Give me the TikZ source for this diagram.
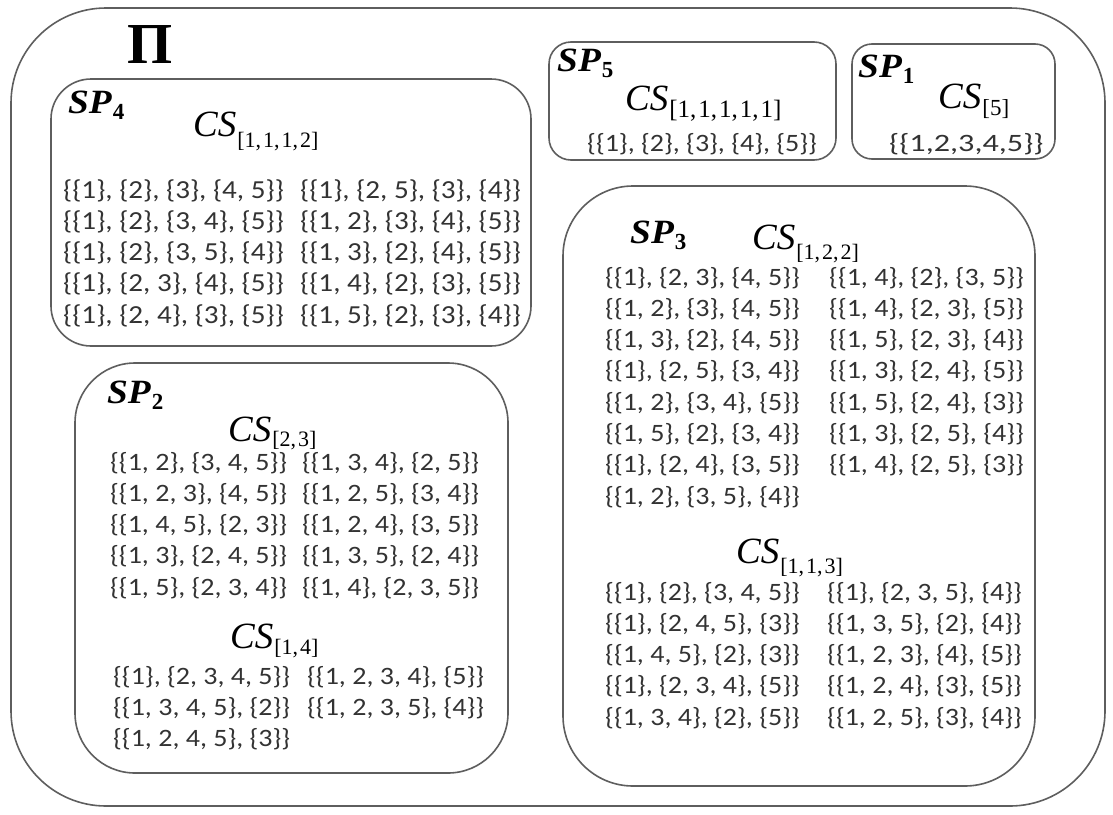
\documentclass[tikz,border=0pt]{standalone}
\usepackage{graphicx}
\usepackage{fontspec}
\setmainfont{Carlito}
\newfontfamily\setfont[FakeStretch=1.12]{Carlito}
\newfontfamily\serifface{Liberation Serif}
\newfontfamily\spface[FakeStretch=1.1]{Liberation Serif}
\definecolor{ink}{HTML}{333333}
\definecolor{edge}{HTML}{5E5E5E}

% CS label: #1 subscript, #2 drop of the subscript, #3 subscript size
\newcommand\cstag[3]{{\serifface\itshape\fontsize{37}{37}\selectfont CS}\kern1pt
  \raisebox{-#2pt}{\serifface\fontsize{#3}{#3}\selectfont[#1]}}
% SP label with numeric subscript
\newcommand\sptag[1]{{\spface\bfseries\itshape\fontsize{34}{34}\selectfont SP}\kern1pt
  \raisebox{-6pt}{\serifface\bfseries\fontsize{23}{23}\selectfont #1}}
% comma followed by a thin gap, as in the bracketed subscripts
\newcommand\subcomma{,\kern2pt}

\tikzset{
  panel/.style={draw=edge, line width=1.6pt, rounded corners=#1},
  setrow/.style={anchor=base west, inner sep=0pt, text=ink, font=\setfont\fontsize{25}{25}\selectfont},
  bigrow/.style={setrow, font=\setfont\fontsize{26}{26}\selectfont},
  label/.style={anchor=base west, inner sep=0pt, text=black},
}
% one column of set partitions, rows 31.3 apart
\newcommand\setcolumn[5][setrow]{%
  \foreach \t [count=\i] in {#5} {\node[#1] (#2-\i) at (#3, {#4+(\i-1)*31.3}) {\t};}}

\begin{document}
\begin{tikzpicture}[x=1pt,y=-1pt]
\useasboundingbox (0,0) rectangle (1113,814);
\fill[white] (0,0) rectangle (1113,814);

% frames
\draw[panel=95] (11,8) rectangle (1105,806);
\draw[panel=40] (51,79) rectangle (531,346);
\draw[panel=22] (549,42) rectangle (836,160);
\draw[panel=20] (852,44) rectangle (1055,159);
\draw[panel=70] (563,186) rectangle (1035,786);
\draw[panel=60] (75,363) rectangle (508,773);

% whole set
\node[label, font=\serifface\bfseries\fontsize{58}{58}\selectfont] (pi) at (127,63) {Π};

% SP4
\node[label] (sp4) at (68,113) {\sptag{4}};
\node[label] (cs4) at (193,136) {\cstag{1\subcomma1\subcomma1\subcomma2}{11}{22}};
\setcolumn[bigrow]{sp4a}{63}{198}{{\{\{1\}, \{2\}, \{3\}, \{4, 5\}\}},{\{\{1\}, \{2\}, \{3, 4\}, \{5\}\}},{\{\{1\}, \{2\}, \{3, 5\}, \{4\}\}},{\{\{1\}, \{2, 3\}, \{4\}, \{5\}\}},{\{\{1\}, \{2, 4\}, \{3\}, \{5\}\}}}
\setcolumn[bigrow]{sp4b}{300}{198}{{\{\{1\}, \{2, 5\}, \{3\}, \{4\}\}},{\{\{1, 2\}, \{3\}, \{4\}, \{5\}\}},{\{\{1, 3\}, \{2\}, \{4\}, \{5\}\}},{\{\{1, 4\}, \{2\}, \{3\}, \{5\}\}},{\{\{1, 5\}, \{2\}, \{3\}, \{4\}\}}}

% SP5
\node[label] (sp5) at (557,71) {\sptag{5}};
\node[label] (cs5) at (625,110) {\cstag{1\subcomma1\subcomma1\subcomma1\subcomma1}{7}{25}};
\node[setrow] (sp5a) at (587,151) {\{\{1\}, \{2\}, \{3\}, \{4\}, \{5\}\}};

% SP1
\node[label] (sp1) at (858,77) {\sptag{1}};
\node[label] (cs1) at (938,108) {\cstag{5}{7}{23}};
\node[setrow] (sp1a) at (889,151) {\scalebox{1.15}[1]{\{\{1,2,3,4,5\}\}}};

% SP3
\node[label] (sp3) at (630,243) {\sptag{3}};
\node[label] (cs3a) at (752,249) {\cstag{1\subcomma2\subcomma2}{10}{22}};
\setcolumn{sp3a}{605}{285}{{\{\{1\}, \{2, 3\}, \{4, 5\}\}},{\{\{1, 2\}, \{3\}, \{4, 5\}\}},{\{\{1, 3\}, \{2\}, \{4, 5\}\}},{\{\{1\}, \{2, 5\}, \{3, 4\}\}},{\{\{1, 2\}, \{3, 4\}, \{5\}\}},{\{\{1, 5\}, \{2\}, \{3, 4\}\}},{\{\{1\}, \{2, 4\}, \{3, 5\}\}},{\{\{1, 2\}, \{3, 5\}, \{4\}\}}}
\setcolumn{sp3b}{829}{285}{{\{\{1, 4\}, \{2\}, \{3, 5\}\}},{\{\{1, 4\}, \{2, 3\}, \{5\}\}},{\{\{1, 5\}, \{2, 3\}, \{4\}\}},{\{\{1, 3\}, \{2, 4\}, \{5\}\}},{\{\{1, 5\}, \{2, 4\}, \{3\}\}},{\{\{1, 3\}, \{2, 5\}, \{4\}\}},{\{\{1, 4\}, \{2, 5\}, \{3\}\}}}
\node[label] (cs3b) at (736,563) {\cstag{1\subcomma1\subcomma3}{10}{22}};
\setcolumn{sp3c}{605}{600}{{\{\{1\}, \{2\}, \{3, 4, 5\}\}},{\{\{1\}, \{2, 4, 5\}, \{3\}\}},{\{\{1, 4, 5\}, \{2\}, \{3\}\}},{\{\{1\}, \{2, 3, 4\}, \{5\}\}},{\{\{1, 3, 4\}, \{2\}, \{5\}\}}}
\setcolumn{sp3d}{827}{600}{{\{\{1\}, \{2, 3, 5\}, \{4\}\}},{\{\{1, 3, 5\}, \{2\}, \{4\}\}},{\{\{1, 2, 3\}, \{4\}, \{5\}\}},{\{\{1, 2, 4\}, \{3\}, \{5\}\}},{\{\{1, 2, 5\}, \{3\}, \{4\}\}}}

% SP2
\node[label] (sp2) at (107,403) {\sptag{2}};
\node[label] (cs2a) at (228,441) {\cstag{2\subcomma3}{5}{22}};
\setcolumn{sp2a}{110}{470}{{\{\{1, 2\}, \{3, 4, 5\}\}},{\{\{1, 2, 3\}, \{4, 5\}\}},{\{\{1, 4, 5\}, \{2, 3\}\}},{\{\{1, 3\}, \{2, 4, 5\}\}},{\{\{1, 5\}, \{2, 3, 4\}\}}}
\setcolumn{sp2b}{302}{470}{{\{\{1, 3, 4\}, \{2, 5\}\}},{\{\{1, 2, 5\}, \{3, 4\}\}},{\{\{1, 2, 4\}, \{3, 5\}\}},{\{\{1, 3, 5\}, \{2, 4\}\}},{\{\{1, 4\}, \{2, 3, 5\}\}}}
\node[label] (cs2b) at (230,648) {\cstag{1\subcomma4}{6}{22}};
\setcolumn{sp2c}{113}{684}{{\{\{1\}, \{2, 3, 4, 5\}\}},{\{\{1, 3, 4, 5\}, \{2\}\}},{\{\{1, 2, 4, 5\}, \{3\}\}}}
\setcolumn{sp2d}{307}{684}{{\{\{1, 2, 3, 4\}, \{5\}\}},{\{\{1, 2, 3, 5\}, \{4\}\}}}
\end{tikzpicture}
\end{document}
